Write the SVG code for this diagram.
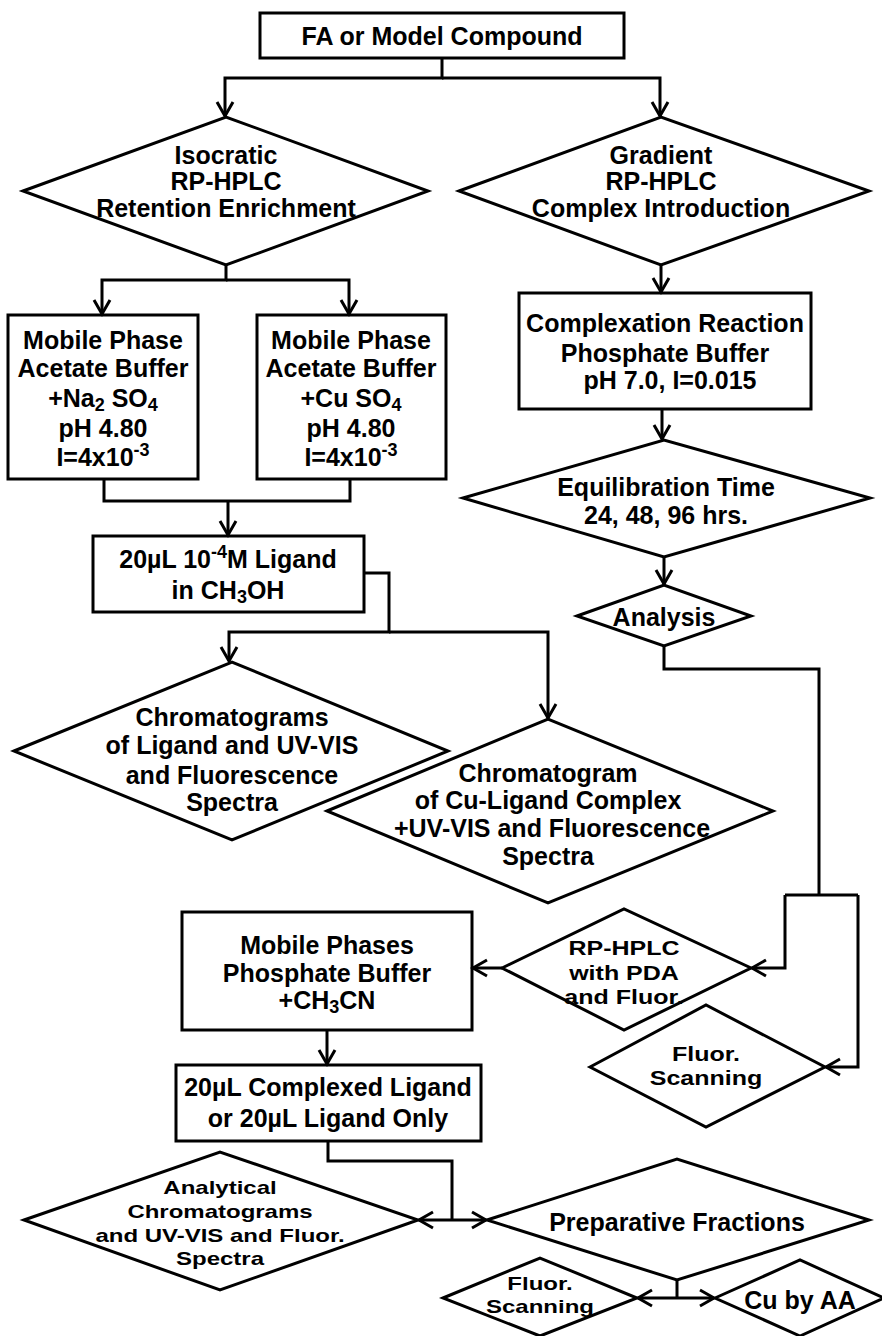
<svg xmlns="http://www.w3.org/2000/svg" width="882" height="1336" viewBox="0 0 882 1336">
<style>
.n{fill:none;stroke:#000;stroke-width:3;stroke-linejoin:miter}
.c{fill:none;stroke:#000;stroke-width:3}
text{font-family:"Liberation Sans",Arial,sans-serif;font-weight:bold;font-size:25px;text-anchor:middle;fill:#000}
.s{font-size:18px}
.m{font-size:24px}
</style>
<defs>
<marker id="a" markerUnits="userSpaceOnUse" markerWidth="20" markerHeight="20" refX="15" refY="8" orient="auto" overflow="visible">
<path d="M1,0 L15,8 L1,16" fill="none" stroke="#000" stroke-width="3"/>
</marker>
</defs>
<rect width="882" height="1336" fill="#fff"/>
<g id="connectors">
<path class="c" d="M442,58 V78 H225 V116" marker-end="url(#a)"/>
<path class="c" d="M442,78 H660 V116" marker-end="url(#a)"/>
<path class="c" d="M226,265 V280 H102 V314" marker-end="url(#a)"/>
<path class="c" d="M226,280 H349 V314" marker-end="url(#a)"/>
<path class="c" d="M661,265 V292" marker-end="url(#a)"/>
<path class="c" d="M662,409 V439" marker-end="url(#a)"/>
<path class="c" d="M664,557 V584" marker-end="url(#a)"/>
<path class="c" d="M104,479 V501 H350 V479"/>
<path class="c" d="M228,501 V535" marker-end="url(#a)"/>
<path class="c" d="M364,573 H389 V632 H229 V661" marker-end="url(#a)"/>
<path class="c" d="M389,632 H548 V718" marker-end="url(#a)"/>
<path class="c" d="M664,646 V669 H819 V895"/>
<path class="c" d="M785,895 H858"/>
<path class="c" d="M785,895 V968 H752" marker-end="url(#a)"/>
<path class="c" d="M858,895 V1067 H826" marker-end="url(#a)"/>
<path class="c" d="M502,968 H473" marker-end="url(#a)"/>
<path class="c" d="M327,1030 V1064" marker-end="url(#a)"/>
<path class="c" d="M328,1141 V1161 H452 V1220"/>
<path class="c" d="M452,1220 H419" marker-end="url(#a)"/>
<path class="c" d="M452,1220 H486" marker-end="url(#a)"/>
<path class="c" d="M677,1280 V1298"/>
<path class="c" d="M677,1298 H638" marker-end="url(#a)"/>
<path class="c" d="M677,1298 H714" marker-end="url(#a)"/>
</g>
<g id="n1">
<rect class="n" x="260" y="13" width="364" height="45"/>
<text x="442" y="45">FA  or Model Compound</text>
</g>
<g id="n2">
<polygon class="n" points="23,191 226,117 428,191 226,265"/>
<text x="226" y="164">Isocratic</text>
<text x="226" y="190">RP-HPLC</text>
<text x="226" y="217">Retention Enrichment</text>
</g>
<g id="n3">
<polygon class="n" points="459,191 661,117 869,191 661,265"/>
<text x="661" y="164">Gradient</text>
<text x="661" y="190">RP-HPLC</text>
<text x="661" y="217">Complex Introduction</text>
</g>
<g id="n4">
<rect class="n" x="8" y="315" width="190" height="164"/>
<text x="103" y="349">Mobile Phase</text>
<text x="103" y="377">Acetate Buffer</text>
<text x="103" y="407">+Na<tspan class="s" dy="4">2</tspan><tspan dy="-4"> SO</tspan><tspan class="s" dy="4">4</tspan></text>
<text x="103" y="437">pH  4.80</text>
<text x="103" y="466">I=4x10<tspan class="s" dy="-10">-3</tspan></text>
</g>
<g id="n5">
<rect class="n" x="257" y="315" width="189" height="164"/>
<text x="351" y="349">Mobile Phase</text>
<text x="351" y="377">Acetate Buffer</text>
<text x="351" y="407">+Cu SO<tspan class="s" dy="4">4</tspan></text>
<text x="351" y="437">pH  4.80</text>
<text x="351" y="466">I=4x10<tspan class="s" dy="-10">-3</tspan></text>
</g>
<g id="n6">
<rect class="n" x="519" y="293" width="292" height="116"/>
<text x="665" y="332">Complexation Reaction</text>
<text x="665" y="362">Phosphate Buffer</text>
<text x="670" y="389">pH  7.0, I=0.015</text>
</g>
<g id="n7">
<polygon class="n" points="463,498 664,440 870,498 664,557"/>
<text x="666" y="496">Equilibration Time</text>
<text x="666" y="524">24, 48, 96 hrs.</text>
</g>
<g id="n8">
<rect class="n" x="93" y="536" width="271" height="76"/>
<text x="228" y="568">20µL 10<tspan class="s" dy="-10">-4</tspan><tspan dy="10">M Ligand</tspan></text>
<text x="228" y="599">in CH<tspan class="s" dy="4">3</tspan><tspan dy="-4">OH</tspan></text>
</g>
<g id="n9">
<polygon class="n" points="577,616 664,585 751,616 664,646"/>
<text x="664" y="626">Analysis</text>
</g>
<g id="n10">
<polygon class="n" points="14,751 232,662 448,751 232,840"/>
<text x="232" y="726">Chromatograms</text>
<text x="232" y="754">of Ligand and UV-VIS</text>
<text x="232" y="784">and Fluorescence</text>
<text x="232" y="811">Spectra</text>
</g>
<g id="n11">
<polygon class="n" points="327,811 548,719 773,811 548,903"/>
<text x="548" y="782">Chromatogram</text>
<text x="548" y="809">of Cu-Ligand Complex</text>
<text x="552" y="837">+UV-VIS and Fluorescence</text>
<text x="548" y="865">Spectra</text>
</g>
<g id="n12">
<rect class="n" x="182" y="912" width="290" height="118"/>
<text x="327" y="954">Mobile Phases</text>
<text x="327" y="982">Phosphate Buffer</text>
<text x="327" y="1009">+CH<tspan class="s" dy="4">3</tspan><tspan dy="-4">CN</tspan></text>
</g>
<g id="n13">
<polygon class="n" points="502,968 624,909 751,968 624,1030"/>
<text transform="translate(624,955) scale(1,0.8)">RP-HPLC</text>
<text transform="translate(624,980) scale(1,0.8)">with PDA</text>
<text transform="translate(624,1004) scale(1,0.8)">and Fluor.</text>
</g>
<g id="n14">
<polygon class="n" points="590,1067 706,1005 825,1067 706,1127"/>
<text transform="translate(706,1061) scale(1,0.8)">Fluor.</text>
<text transform="translate(706,1085) scale(1,0.8)">Scanning</text>
</g>
<g id="n15">
<rect class="n" x="176" y="1065" width="305" height="76"/>
<text x="328" y="1096">20µL Complexed Ligand</text>
<text x="328" y="1127">or 20µL Ligand Only</text>
</g>
<g id="n16">
<polygon class="n" points="24,1220 220,1152 418,1220 220,1290"/>
<text class="m" transform="translate(220,1194) scale(1,0.8)">Analytical</text>
<text class="m" transform="translate(220,1218) scale(1,0.8)">Chromatograms</text>
<text class="m" transform="translate(220,1242) scale(1,0.8)">and UV-VIS and Fluor.</text>
<text class="m" transform="translate(220,1265) scale(1,0.8)">Spectra</text>
</g>
<g id="n17">
<polygon class="n" points="487,1220 677,1159 869,1220 677,1280"/>
<text x="677" y="1231">Preparative Fractions</text>
</g>
<g id="n18">
<polygon class="n" points="443,1298 540,1258 637,1298 540,1336"/>
<text class="m" transform="translate(540,1290) scale(1,0.8)">Fluor.</text>
<text class="m" transform="translate(540,1313) scale(1,0.8)">Scanning</text>
</g>
<g id="n19">
<polygon class="n" points="715,1298 800,1260 884,1298 800,1336"/>
<text x="800" y="1309">Cu by AA</text>
</g>
</svg>
